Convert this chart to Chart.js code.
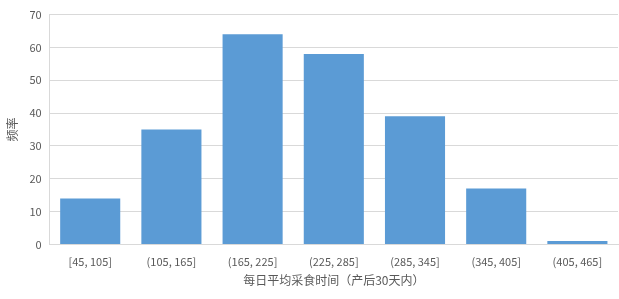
<!DOCTYPE html>
<html>
<head>
<meta charset="utf-8">
<script src="https://cdn.jsdelivr.net/npm/chart.js@4.4.0/dist/chart.umd.min.js"></script>
<style>
  html, body { margin: 0; padding: 0; background: #fff; }
  #wrap { width: 619px; height: 299px; }
</style>
</head>
<body>
<div id="wrap"><canvas id="histChart"></canvas></div>
<script>
// 每日平均采食时间 histogram
const categories = ['[45, 105]', '(105, 165]', '(165, 225]', '(225, 285]', '(285, 345]', '(345, 405]', '(405, 465]'];
const frequencies = [14, 35, 64, 58, 39, 17, 1];
const yTicks = [0, 10, 20, 30, 40, 50, 60, 70];

const textColor = '#595959';
const fontFamily = '"Noto Sans CJK SC", "Noto Sans", sans-serif';

new Chart(document.getElementById('histChart'), {
    type: 'bar',
    data: {
        labels: categories,
        datasets: [{
            label: '频率',
            data: frequencies,
            backgroundColor: '#5B9BD5',
            borderWidth: 0,
            categoryPercentage: 1,
            barPercentage: 0.74
        }]
    },
    options: {
        responsive: true,
        maintainAspectRatio: false,
        animation: false,
        layout: {
            padding: { left: 5, right: 1, top: 14, bottom: 11 }
        },
        plugins: {
            legend: { display: false },
            tooltip: { enabled: false }
        },
        scales: {
            x: {
                grid: { display: false },
                border: { color: '#d9d9d9' },
                ticks: {
                    color: textColor,
                    font: { family: fontFamily, size: 11 },
                    maxRotation: 0,
                    padding: 3
                },
                title: {
                    display: true,
                    text: '每日平均采食时间（产后30天内）',
                    color: textColor,
                    font: { family: fontFamily, size: 12 },
                    padding: { top: 2, bottom: 0 }
                }
            },
            y: {
                min: yTicks[0],
                max: yTicks[yTicks.length - 1],
                afterBuildTicks: axis => { axis.ticks = yTicks.map(v => ({ value: v })); },
                grid: { color: '#d9d9d9', drawTicks: false },
                border: { color: '#d9d9d9' },
                ticks: {
                    color: textColor,
                    font: { family: fontFamily, size: 11 },
                    padding: 8
                },
                title: {
                    display: true,
                    text: '频率',
                    color: textColor,
                    font: { family: fontFamily, size: 12 },
                    padding: { top: 0, bottom: 2 }
                }
            }
        }
    }
});
</script>
</body>
</html>
